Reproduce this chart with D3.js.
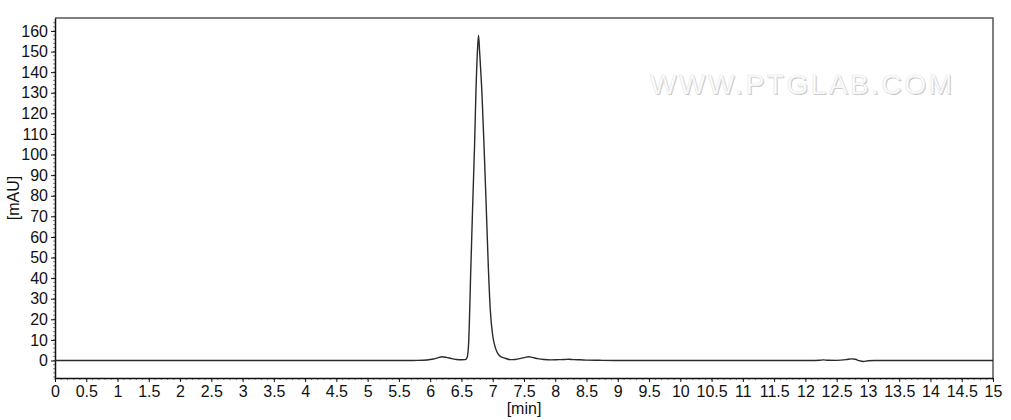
<!DOCTYPE html>
<html>
<head>
<meta charset="utf-8">
<script src="https://cdn.jsdelivr.net/npm/d3@7/dist/d3.min.js"></script>
<style>
  html, body { margin: 0; padding: 0; background: #fff; }
  svg { display: block; }
  text { font-family: "Liberation Sans", Arial, sans-serif; }
</style>
</head>
<body>
<svg id="chart" width="1011" height="420"></svg>
<script>
// ---- data (retention time in min, absorbance in mAU) ----
const timeMin = [0, 5.5, 5.8, 5.95, 6.05, 6.12, 6.19, 6.26, 6.34, 6.42, 6.5, 6.56, 6.59, 6.613, 6.65, 6.683, 6.71, 6.731, 6.755, 6.773,
  6.79, 6.827, 6.86, 6.891, 6.93, 6.96, 7.0, 7.03, 7.07, 7.12, 7.2, 7.28, 7.36, 7.45, 7.52, 7.57, 7.63, 7.72, 7.82, 7.92,
  8.05, 8.15, 8.22, 8.3, 8.4, 8.5, 8.7, 9.0, 12.1, 12.22, 12.29, 12.36, 12.5, 12.65, 12.74, 12.8, 12.86, 12.93, 13.0, 13.1, 15];
const absMAU = [0, 0, 0.05, 0.25, 0.7, 1.3, 1.8, 1.5, 0.9, 0.5, 0.35, 0.4, 1.5, 7.5, 45, 79, 105, 130, 150, 158,
  150, 130, 105, 79, 45, 25, 12, 7.5, 4, 2, 1.1, 0.4, 0.5, 1.0, 1.5, 1.8, 1.5, 0.9, 0.5, 0.3,
  0.4, 0.5, 0.6, 0.4, 0.35, 0.2, 0.1, 0, 0, 0.1, 0.3, 0.1, 0.05, 0.4, 0.8, 0.6, -0.1, -0.5, -0.1, 0, 0];
const xTickValues = d3.range(0, 15.01, 0.5);
const yTickValues = d3.range(0, 161, 10);
const xLabel = "[min]";
const yLabel = "[mAU]";
const watermark = "WWW.PTGLAB.COM";

// ---- layout ----
const svg = d3.select("#chart");
const plot = { left: 55, right: 993, top: 18, bottom: 378 };

const x = d3.scaleLinear().domain([0, 15]).range([plot.left, plot.right]);
const y = d3.scaleLinear().domain([-8.5, 166.3]).range([plot.bottom, plot.top]);

const fmtX = d => (Math.round(d * 10) / 10).toString();

// watermark
const wm = svg.append("g");
wm.append("text")
  .attr("x", 651).attr("y", 95)
  .attr("textLength", 302).attr("lengthAdjust", "spacing")
  .attr("font-size", 28)
  .attr("fill", "#c4c4c4")
  .text(watermark);
wm.append("text")
  .attr("x", 650).attr("y", 94)
  .attr("textLength", 302).attr("lengthAdjust", "spacing")
  .attr("font-size", 28)
  .attr("fill", "#ffffff")
  .attr("stroke", "#e4e4e4").attr("stroke-width", 0.6)
  .text(watermark);

// frame top and right
svg.append("path")
  .attr("d", `M${plot.left},${plot.top}H${plot.right}V${plot.bottom}`)
  .attr("fill", "none").attr("stroke", "#555").attr("stroke-width", 1.5);

// minor ticks
const xMinor = d3.range(0, 15.001, 0.1);
const yMinor = d3.range(-8, 166, 2);
svg.append("g").selectAll("line").data(xMinor).join("line")
  .attr("x1", d => x(d)).attr("x2", d => x(d))
  .attr("y1", plot.bottom).attr("y2", plot.bottom + 2)
  .attr("stroke", "#666").attr("stroke-width", 0.8);
svg.append("g").selectAll("line").data(yMinor).join("line")
  .attr("x1", plot.left - 2).attr("x2", plot.left)
  .attr("y1", d => y(d)).attr("y2", d => y(d))
  .attr("stroke", "#666").attr("stroke-width", 0.8);

// axes
const xAxis = d3.axisBottom(x).tickValues(xTickValues).tickFormat(fmtX).tickSize(4).tickSizeOuter(0).tickPadding(4);
const yAxis = d3.axisLeft(y).tickValues(yTickValues).tickFormat(d3.format("d")).tickSize(4).tickSizeOuter(0).tickPadding(3);

const gx = svg.append("g").attr("transform", `translate(0,${plot.bottom})`).call(xAxis);
const gy = svg.append("g").attr("transform", `translate(${plot.left},0)`).call(yAxis);
[gx, gy].forEach(g => {
  g.select(".domain").attr("stroke", "#111").attr("stroke-width", 1.5);
  g.selectAll(".tick line").attr("stroke", "#111");
  g.selectAll(".tick text").attr("fill", "#111").attr("font-size", 16)
    .attr("font-family", "'Liberation Sans', Arial, sans-serif");
});

// axis titles
svg.append("text")
  .attr("x", x(7.5)).attr("y", 414)
  .attr("text-anchor", "middle").attr("font-size", 16).attr("fill", "#111")
  .text(xLabel);
svg.append("text")
  .attr("transform", `translate(19,${(plot.top + plot.bottom) / 2}) rotate(-90)`)
  .attr("text-anchor", "middle").attr("font-size", 16).attr("fill", "#111")
  .text(yLabel);

// trace
const pts = timeMin.map((t, i) => [t, absMAU[i]]);
const line = d3.line().x(d => x(d[0])).y(d => y(d[1])).curve(d3.curveMonotoneX);
svg.append("path")
  .datum(pts)
  .attr("d", line)
  .attr("fill", "none")
  .attr("stroke", "#2a2a2a")
  .attr("stroke-width", 1.4)
  .attr("stroke-linejoin", "round");
</script>
</body>
</html>
